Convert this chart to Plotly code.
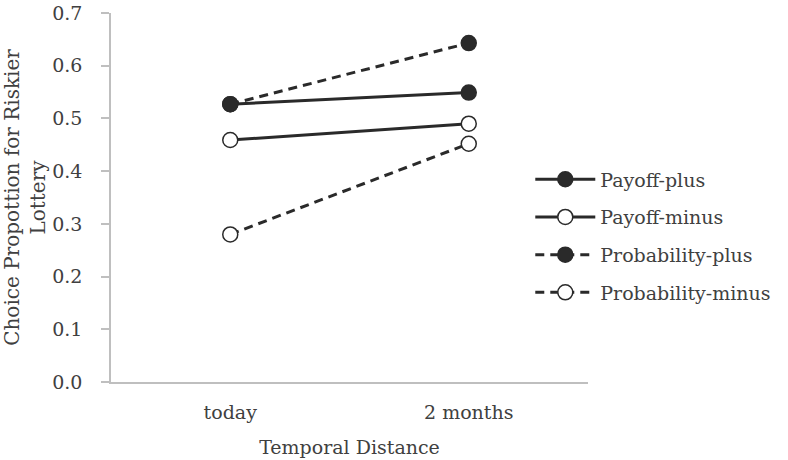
import plotly.graph_objects as go

categories = ["today", "2 months"]
payoff_plus = [0.527, 0.549]
payoff_minus = [0.459, 0.490]
probability_plus = [0.527, 0.643]
probability_minus = [0.280, 0.452]
y_ticks = [0.0, 0.1, 0.2, 0.3, 0.4, 0.5, 0.6, 0.7]

FONT = "DejaVu Serif"
DARK = "#2a2a2a"
TXT = "#404040"
FS = 19

series = [
    ("Payoff-plus", payoff_plus, "solid", DARK),
    ("Payoff-minus", payoff_minus, "solid", "white"),
    ("Probability-plus", probability_plus, "9px,6px", DARK),
    ("Probability-minus", probability_minus, "9px,6px", "white"),
]

fig = go.Figure()
for name, vals, dash, fill in series:
    fig.add_trace(go.Scatter(
        x=categories, y=vals, name=name, mode="lines+markers",
        legendgroup=name,
        line=dict(color=DARK, width=3, dash=dash),
        marker=dict(size=15, color=fill, line=dict(color=DARK, width=1.5)),
    ))

fig.update_layout(
    width=788, height=460,
    margin=dict(l=111, r=198, t=13, b=78),
    paper_bgcolor="white", plot_bgcolor="white",
    font=dict(family=FONT, size=FS, color=TXT),
    showlegend=True,
    legend=dict(x=0.879, y=0.396, xanchor="left", yanchor="middle",
                font=dict(family=FONT, size=FS, color=TXT),
                tracegroupgap=10, itemwidth=60, bgcolor="rgba(0,0,0,0)"),
    xaxis=dict(
        type="category", range=[-0.5, 1.5], automargin=False,
        showline=True, linecolor="#bfbfbf", linewidth=1.5,
        ticks="", showgrid=False, zeroline=False, ticklabelstandoff=12,
        tickfont=dict(size=FS, color=TXT),
        title=dict(text="Temporal Distance", font=dict(size=FS, color=TXT), standoff=19),
    ),
    yaxis=dict(
        range=[0, 0.7], tickvals=y_ticks, tickformat=".1f", automargin=False,
        showline=True, linecolor="#bfbfbf", linewidth=1.5,
        ticks="outside", ticklen=8, tickcolor="#bfbfbf", tickwidth=1.5,
        ticklabelstandoff=15,
        showgrid=False, zeroline=False,
        tickfont=dict(size=FS, color=TXT),
        title=dict(text="Choice Propottion for Riskier<br>Lottery",
                   font=dict(size=20, color=TXT), standoff=14),
    ),
)

fig.write_html("out.html")
